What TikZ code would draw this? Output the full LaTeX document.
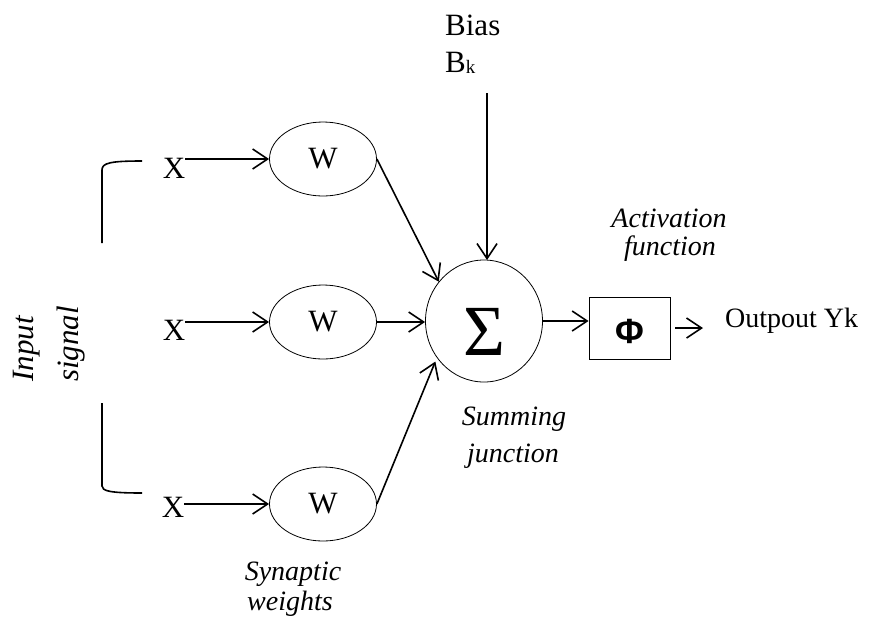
\documentclass[tikz,border=0pt]{standalone}
\usepackage{fontspec}
\setmainfont{Liberation Serif}
\newfontfamily\phifont{Liberation Sans}
\usetikzlibrary{arrows.meta,shapes.geometric}

\begin{document}
\begin{tikzpicture}[x=1pt,y=-1pt,
  conn/.style={line width=1.6pt},
  arr/.style={conn,-{Straight Barb[length=15pt,width=20pt,line width=1.6pt]}},
  wt/.style={ellipse,draw,line width=0.8pt,minimum width=107pt,minimum height=74pt,
    inner sep=0pt,font=\fontsize{31}{33}\selectfont},
  xin/.style={inner sep=0pt,anchor=base,font=\fontsize{31}{34}\selectfont},
  note/.style={inner sep=0pt,anchor=base,font=\fontsize{28}{30}\selectfont\itshape},
  side/.style={inner sep=0pt,anchor=base west,rotate=90,font=\fontsize{31}{34}\selectfont\itshape},
  plain/.style={inner sep=0pt,anchor=base west,font=\fontsize{31}{34}\selectfont},
]
\useasboundingbox (0,0) rectangle (873,630);

% inputs
\node[xin] (x1) at (174,178) {X};
\node[xin] (x2) at (174,340) {X};
\node[xin] (x3) at (173,517) {X};

% synaptic weights
\node[wt] (w1) at (323,159) {W};
\node[wt] (w2) at (323,322) {W};
\node[wt] (w3) at (323,504) {W};

% summing junction
\node[ellipse,draw,line width=0.8pt,minimum width=117pt,minimum height=122pt,inner sep=0pt] (sum) at (484,321) {};
\node[inner sep=0pt,font=\fontsize{72}{72}\selectfont] (sig) at (484,332) {Σ};

% activation
\node[draw,line width=0.8pt,minimum width=81pt,minimum height=62pt,inner sep=0pt] (phi) at (629.5,328) {};
\node[inner sep=0pt,font=\fontsize{35}{35}\phifont\bfseries] (phisym) at (629.5,331) {Φ};

% texts
\node[plain] (bias) at (445,35) {Bias};
\node[plain] (bk) at (445,72) {B\raisebox{-1pt}{\fontsize{19}{19}\selectfont k}};
\node[plain,font=\fontsize{28}{30}\selectfont] (out) at (725,327) {Outpout Yk};

\node[note] (act1) at (669,227) {Activation};
\node[note] (act2) at (670,255) {function};
\node[note] (sj1) at (514,425) {Summing};
\node[note] (sj2) at (513,462) {junction};
\node[note] (sw1) at (293,580) {Synaptic};
\node[note] (sw2) at (290,610) {weights};

\node[side] (in1) at (33,382) {Input};
\node[side] (in2) at (78,382) {signal};

% input bracket
\draw[conn] (142,161) .. controls (110,161) and (102,163) .. (102,170) -- (102,243);
\draw[conn] (102,403) -- (102,486) .. controls (102,491) and (110,493) .. (142,493);

% connectors
\draw[arr] (x1.east |- w1.west) -- (w1.west);
\draw[arr] (x2.east |- w2.west) -- (w2.west);
\draw[arr] (x3.east |- w3.west) -- (w3.west);

\draw[arr] (w1.east) -- (sum.139);
\draw[arr] (w2.east) -- (w2.east -| sum.west);
\draw[arr,shorten >=4pt] (w3.east) -- (sum.218);

\draw[arr] (487,93) -- (487,260);

\draw[arr] (sum.east) -- (sum.east -| phi.west);
\draw[arr,shorten <=5pt,shorten >=22pt] (phi.east) -- (phi.east -| out.west);
\end{tikzpicture}
\end{document}
